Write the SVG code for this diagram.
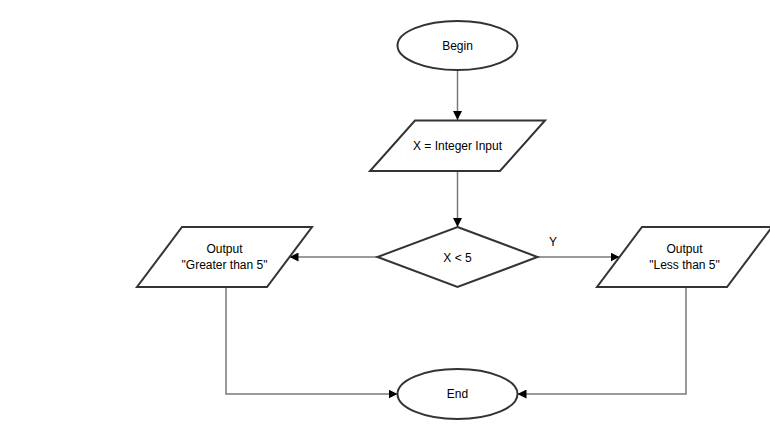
<svg xmlns="http://www.w3.org/2000/svg" width="770" height="440" viewBox="0 0 770 440">
  <style>
    .shape { fill: #ffffff; stroke: #333333; stroke-width: 2; }
    .edge { fill: none; stroke: #7a7a7a; stroke-width: 1.5; }
    .label { font-family: "Liberation Sans", Arial, sans-serif; font-size: 12px; fill: #000000; text-anchor: middle; }
  </style>
  <defs>
    <marker id="arrow" viewBox="0 0 10 10" refX="10" refY="5" markerWidth="9" markerHeight="9" markerUnits="userSpaceOnUse" orient="auto">
      <path d="M0,0 L10,5 L0,10 z" fill="#000000"/>
    </marker>
  </defs>
  <rect width="770" height="440" fill="#ffffff"/>

  <!-- connectors -->
  <g id="connectors">
    <path class="edge" d="M457.5,70 L457.5,120" marker-end="url(#arrow)"/>
    <path class="edge" d="M457.5,171 L457.5,227" marker-end="url(#arrow)"/>
    <path class="edge" d="M377.5,257 L289.5,257" marker-end="url(#arrow)"/>
    <path class="edge" d="M537.5,257 L619.5,257" marker-end="url(#arrow)"/>
    <path class="edge" d="M226,287 L226,394 L397.5,394" marker-end="url(#arrow)"/>
    <path class="edge" d="M686,287 L686,394 L517.5,394" marker-end="url(#arrow)"/>
    <text class="label" x="553" y="246">Y</text>
  </g>

  <g id="begin">
    <ellipse class="shape" cx="457.5" cy="45.5" rx="60" ry="24.5"/>
    <text class="label" x="457.5" y="49.5">Begin</text>
  </g>

  <g id="input">
    <polygon class="shape" points="415,120.5 545,120.5 500,171 370,171"/>
    <text class="label" x="457.5" y="149.5">X = Integer Input</text>
  </g>

  <g id="decision">
    <polygon class="shape" points="457.5,227 537.5,257 457.5,287 377.5,257"/>
    <text class="label" x="457.5" y="261.5">X &lt; 5</text>
  </g>

  <g id="output-greater">
    <polygon class="shape" points="182,227 312,227 267,287 137,287"/>
    <text class="label" x="224.5" y="253">Output</text>
    <text class="label" x="224.5" y="269">"Greater than 5"</text>
  </g>

  <g id="output-less">
    <polygon class="shape" points="642,227 772,227 727,287 597,287"/>
    <text class="label" x="684.5" y="253">Output</text>
    <text class="label" x="684.5" y="269">"Less than 5"</text>
  </g>

  <g id="end">
    <ellipse class="shape" cx="457.5" cy="394" rx="60" ry="25"/>
    <text class="label" x="457.5" y="398">End</text>
  </g>
</svg>
